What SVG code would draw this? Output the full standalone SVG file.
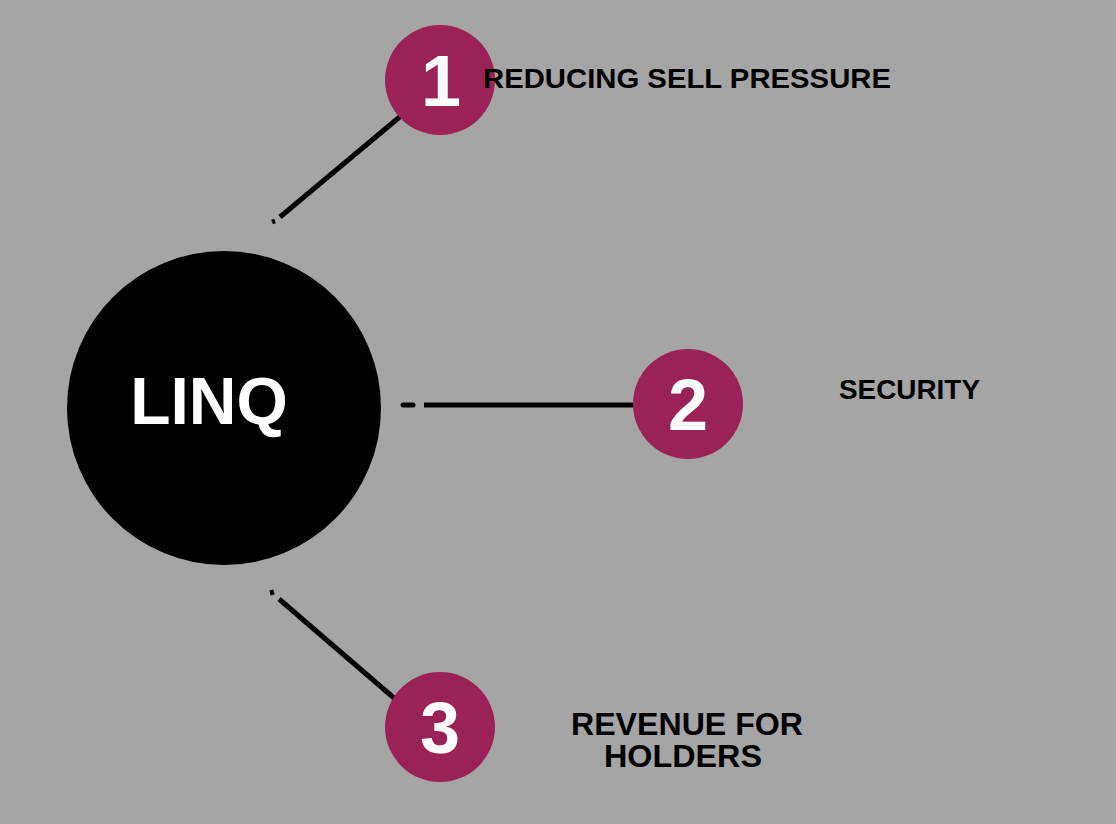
<svg xmlns="http://www.w3.org/2000/svg" width="1116" height="824" viewBox="0 0 1116 824">
<style>
.num{fill:#ffffff;font-family:"Liberation Sans",Arial,sans-serif;font-weight:bold;font-size:72px;text-anchor:middle}
.lbl{fill:#000000;font-family:"Liberation Sans",Arial,sans-serif;font-weight:bold;font-size:28px}
.big{font-size:31px}
.bub{fill:#9b2257}
.con{stroke:#000000;stroke-width:5;fill:none}
</style>
<rect width="1116" height="824" fill="#a5a5a5"/>
<g id="connectors">
<line class="con" x1="280" y1="217" x2="402" y2="115"/>
<line class="con" x1="272" y1="222" x2="275" y2="221" stroke-width="2"/>
<line class="con" x1="403" y1="405" x2="413" y2="405" stroke-linecap="round"/>
<line class="con" x1="424" y1="405" x2="640" y2="405"/>
<line class="con" x1="279" y1="599" x2="394" y2="698"/>
<line class="con" x1="270" y1="593" x2="274" y2="592" stroke-width="2"/>
</g>
<g id="linq">
<circle cx="224" cy="408" r="157" fill="#000000"/>
<text x="209" y="424" fill="#ffffff" font-family="Liberation Sans, Arial, sans-serif" font-weight="bold" font-size="66" text-anchor="middle">LINQ</text>
</g>
<g id="node1">
<circle class="bub" cx="440" cy="80" r="55"/>
<text class="num" x="441" y="106">1</text>
<text class="lbl" x="483" y="88" textLength="408" lengthAdjust="spacingAndGlyphs">REDUCING SELL PRESSURE</text>
</g>
<g id="node2">
<circle class="bub" cx="688" cy="404" r="55"/>
<text class="num" x="688" y="430">2</text>
<text class="lbl" x="839" y="399" textLength="141" lengthAdjust="spacingAndGlyphs">SECURITY</text>
</g>
<g id="node3">
<circle class="bub" cx="440" cy="727" r="55"/>
<text class="num" x="440" y="753">3</text>
<text class="lbl big" x="571" y="735" textLength="232" lengthAdjust="spacingAndGlyphs">REVENUE FOR</text>
<text class="lbl big" x="604" y="767" textLength="158" lengthAdjust="spacingAndGlyphs">HOLDERS</text>
</g>
</svg>
